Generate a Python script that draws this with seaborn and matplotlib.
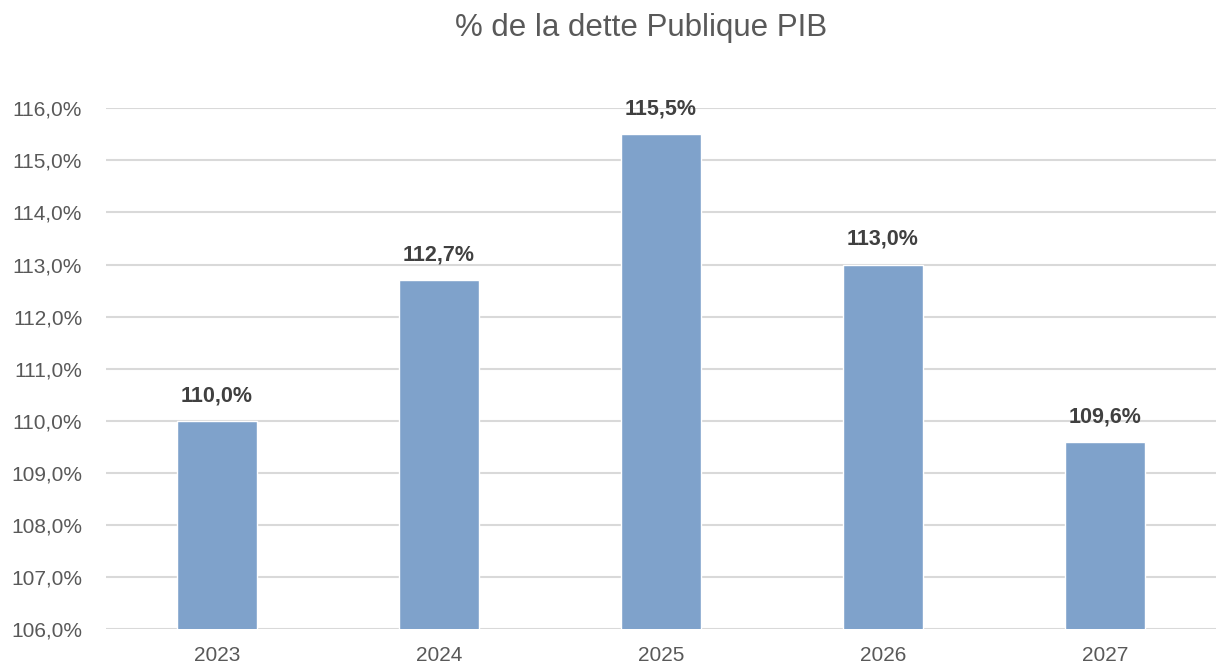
import matplotlib
matplotlib.use("Agg")
import matplotlib.pyplot as plt
import seaborn as sns
import pandas as pd
from matplotlib.ticker import FuncFormatter

years = ["2023", "2024", "2025", "2026", "2027"]
dette_pib = [110.0, 112.7, 115.5, 113.0, 109.6]
titre = "% de la dette Publique PIB"

df = pd.DataFrame({"annee": years, "dette": dette_pib})

sns.set_theme(style="white")
plt.rcParams["font.family"] = ["Liberation Sans", "DejaVu Sans"]

fig = plt.figure(figsize=(12.16, 6.68), dpi=100)
ax = fig.add_axes([0.087, 0.058, 0.913, 0.78])

sns.barplot(data=df, x="annee", y="dette", color="#7FA2CB", width=0.36,
            saturation=1, ax=ax, zorder=3)

ax.set_ylim(106, 116)
ax.set_yticks(range(106, 117))
ax.yaxis.set_major_formatter(FuncFormatter(lambda v, p: f"{v:.1f}%".replace(".", ",")))
ax.grid(axis="y", color="#D9D9D9", linewidth=1.5, zorder=0)
ax.set_xlabel("")
ax.set_ylabel("")
for s in ax.spines.values():
    s.set_visible(False)
ax.tick_params(axis="both", length=0, labelsize=15, labelcolor="#595959")
ax.tick_params(axis="y", pad=17)
ax.tick_params(axis="x", pad=12)

for i, v in enumerate(dette_pib):
    ax.text(i, v + 0.28, f"{v:.1f}%".replace(".", ","), ha="center", va="bottom",
            fontsize=15.5, fontweight="bold", color="#404040")

fig.text(0.527, 0.958, titre, ha="center", va="center", fontsize=22.5, color="#595959")

fig.savefig("out.png", dpi=100)
